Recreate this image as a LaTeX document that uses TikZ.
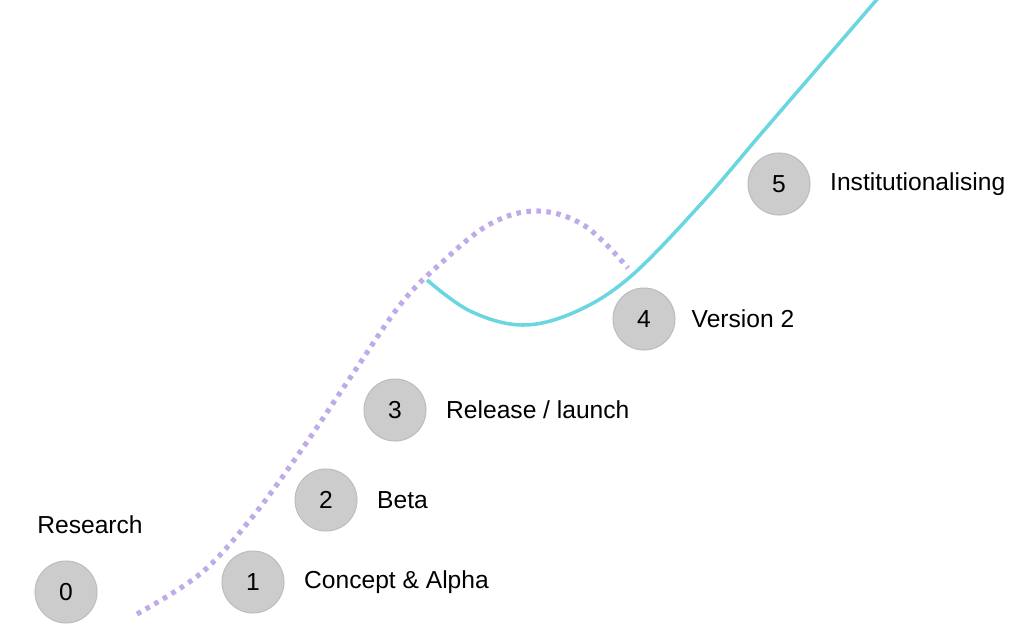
\documentclass[tikz,border=0pt]{standalone}
\usepackage{fontspec}
\setmainfont{Liberation Sans}
\usetikzlibrary{positioning}
\definecolor{stepgray}{HTML}{CCCCCC}
\definecolor{stepline}{HTML}{BDBDBD}
\definecolor{lavender}{HTML}{BFAAEA}
\definecolor{teal}{HTML}{6AD6DF}
\tikzset{
  stage/.style={circle,fill=stepgray,draw=stepline,line width=0.6pt,minimum size=1.24cm,inner sep=0pt,font=\fontsize{14}{16}\selectfont},
  lbl/.style={inner sep=0pt,anchor=west,font=\fontsize{14}{16}\selectfont}
}
\begin{document}
\begin{tikzpicture}[x=0.02cm,y=-0.02cm]
  \useasboundingbox (0,0) rectangle (1013,643);
  % first curve
  \draw[lavender,line width=2.9pt,dash pattern=on 2.6pt off 3.1pt] plot[smooth,tension=0.6] coordinates {(137,614) (200,574) (250,520) (300,452) (350,378) (400,305) (440,264) (490,224) (538,211) (585,226) (628,268)};
  % second curve
  \draw[teal,line width=2pt] plot[smooth,tension=0.6] coordinates {(427,280) (470,311) (522,325) (575,312) (630,277) (700,205) (760,135) (810,77) (879,-3)};
  \node[stage](c0) at (66,592) {0};
  \node[stage](c1) at (253,582) {1};
  \node[stage](c2) at (326,500) {2};
  \node[stage](c3) at (395,410) {3};
  \node[stage](c4) at (644,319) {4};
  \node[stage](c5) at (779,184) {5};
  \node[lbl](l0) at (37,525) {Research};
  \node[lbl,right=11pt of c1](l1) {Concept \& Alpha};
  \node[lbl,right=11pt of c2](l2) {Beta};
  \node[lbl,right=11pt of c3](l3) {Release / launch};
  \node[lbl,right=9pt of c4](l4) {Version 2};
  \node[lbl,right=11pt of c5](l5) {Institutionalising};
\end{tikzpicture}
\end{document}
